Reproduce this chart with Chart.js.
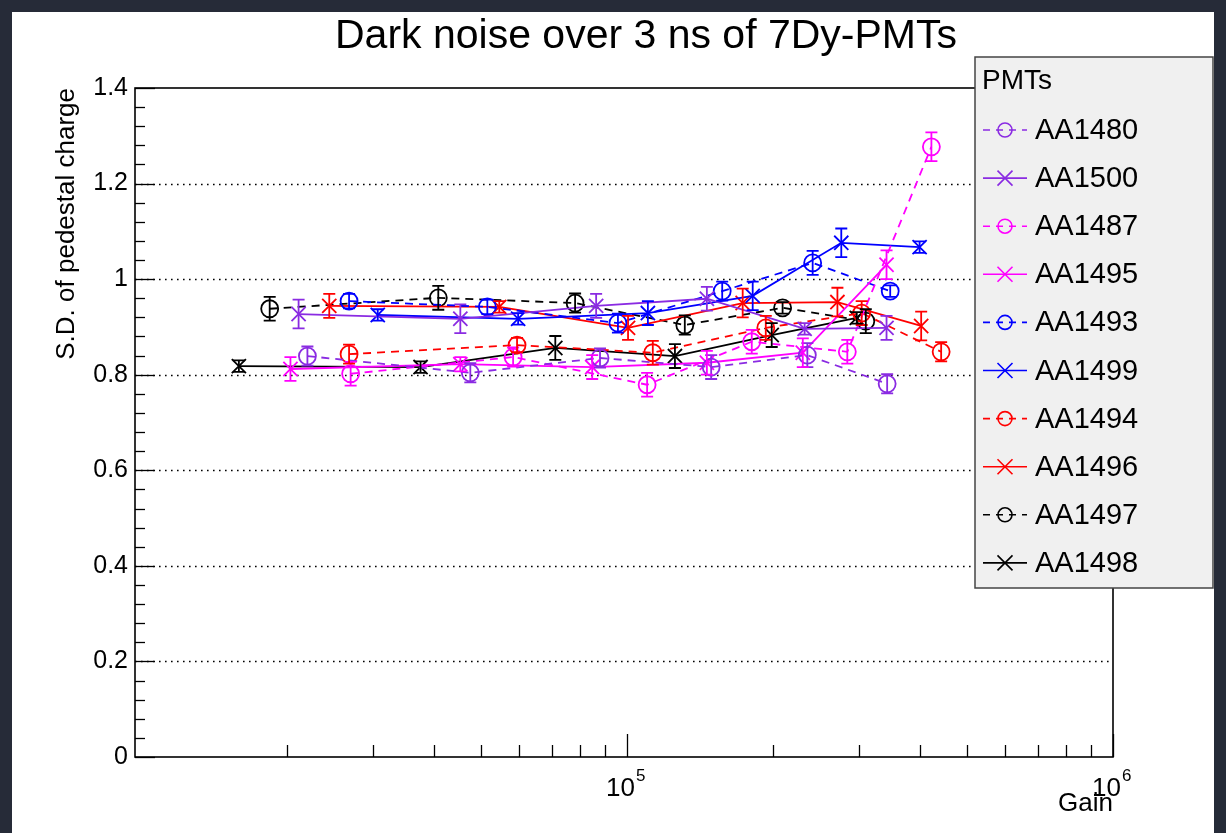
<!DOCTYPE html>
<html lang="en">
<head>
  <meta charset="UTF-8">
  <title>Dark noise over 3 ns of 7Dy-PMTs</title>
  <script src="https://cdn.jsdelivr.net/npm/chart.js"></script>
  <style>
    html, body { margin: 0; padding: 0; background: #262b38; }
    #wrap { width: 1226px; height: 833px; }
  </style>
</head>
<body>
  <div id="wrap"><canvas id="darkNoise" width="1226" height="833"></canvas></div>

  <script>
    // values (gain, S.D. of pedestal charge, error)
    const gain1480 = [22000, 47600, 88000, 149000, 235000, 343000];
    const sd1480   = [0.839, 0.804, 0.835, 0.816, 0.841, 0.781];
    const err1480  = [0.02, 0.02, 0.02, 0.025, 0.025, 0.02];

    const gain1500 = [21100, 45400, 86400, 146000, 232000, 342000];
    const sd1500   = [0.927, 0.917, 0.944, 0.959, 0.896, 0.898];
    const err1500  = [0.03, 0.03, 0.025, 0.025, 0.012, 0.025];

    const gain1487 = [27000, 58300, 110000, 180600, 284000, 423000];
    const sd1487   = [0.802, 0.837, 0.779, 0.869, 0.848, 1.277];
    const err1487  = [0.025, 0.02, 0.025, 0.025, 0.025, 0.03];

    const gain1495 = [20300, 45400, 84800, 146000, 230000, 342000];
    const sd1495   = [0.812, 0.822, 0.816, 0.825, 0.846, 1.030];
    const err1495  = [0.025, 0.015, 0.025, 0.025, 0.03, 0.03];

    const gain1493 = [26800, 51600, 95800, 157000, 241000, 348000];
    const sd1493   = [0.954, 0.942, 0.908, 0.975, 1.034, 0.975];
    const err1493  = [0.015, 0.015, 0.02, 0.02, 0.025, 0.012];

    const gain1499 = [30700, 59700, 110400, 181400, 276000, 400000];
    const sd1499   = [0.925, 0.917, 0.929, 0.965, 1.076, 1.067];
    const err1499  = [0.012, 0.012, 0.025, 0.03, 0.03, 0.012];

    const gain1494 = [26800, 59400, 113000, 193000, 304000, 443000];
    const sd1494   = [0.843, 0.862, 0.846, 0.898, 0.929, 0.848];
    const err1494  = [0.02, 0.015, 0.025, 0.025, 0.025, 0.02];

    const gain1496 = [24400, 54600, 100500, 173000, 271000, 403000];
    const sd1496   = [0.944, 0.942, 0.898, 0.950, 0.952, 0.902];
    const err1496  = [0.025, 0.012, 0.025, 0.03, 0.03, 0.03];

    const gain1497 = [18400, 40900, 78200, 131500, 209000, 310000];
    const sd1497   = [0.938, 0.961, 0.950, 0.904, 0.940, 0.912];
    const err1497  = [0.025, 0.025, 0.02, 0.02, 0.012, 0.025];

    const gain1498 = [15900, 37600, 71200, 125500, 198500, 297000];
    const sd1498   = [0.818, 0.816, 0.856, 0.839, 0.883, 0.919];
    const err1498  = [0.012, 0.012, 0.025, 0.025, 0.025, 0.012];

    // axis ticks
    const xMin = 9720, xMax = 1e6;
    const xTickValues = [2e4, 3e4, 4e4, 5e4, 6e4, 7e4, 8e4, 9e4,
                         1e5, 2e5, 3e5, 4e5, 5e5, 6e5, 7e5, 8e5, 9e5, 1e6];
    const xLabelValues = [1e5, 1e6];
    const xLabelExp = ['5', '6'];
    const yGridValues = [0.2, 0.4, 0.6, 0.8, 1.0, 1.2];

    const FONT = "'Liberation Sans', Arial, Helvetica, sans-serif";
    const VIOLET = '#8a2be2';

    function makeSet(name, gains, sd, err, color, dashed) {
      return {
        label: name,
        data: gains.map((g, i) => ({ x: g, y: sd[i] })),
        errors: err,
        dashed: dashed,
        borderColor: color,
        backgroundColor: 'transparent',
        borderWidth: 1.8,
        borderDash: dashed ? [8, 6] : [],
        pointStyle: dashed ? 'circle' : 'crossRot',
        pointRadius: dashed ? 8.5 : 10,
        pointBorderWidth: 1.8,
        pointBorderColor: color,
        pointBackgroundColor: 'transparent',
        tension: 0
      };
    }

    const datasets = [
      makeSet('AA1480', gain1480, sd1480, err1480, VIOLET, true),
      makeSet('AA1500', gain1500, sd1500, err1500, VIOLET, false),
      makeSet('AA1487', gain1487, sd1487, err1487, '#ff00ff', true),
      makeSet('AA1495', gain1495, sd1495, err1495, '#ff00ff', false),
      makeSet('AA1493', gain1493, sd1493, err1493, '#0000ff', true),
      makeSet('AA1499', gain1499, sd1499, err1499, '#0000ff', false),
      makeSet('AA1494', gain1494, sd1494, err1494, '#ff0000', true),
      makeSet('AA1496', gain1496, sd1496, err1496, '#ff0000', false),
      makeSet('AA1497', gain1497, sd1497, err1497, '#000000', true),
      makeSet('AA1498', gain1498, sd1498, err1498, '#000000', false)
    ];

    function drawMarker(ctx, x, y, ds, r) {
      ctx.beginPath();
      if (ds.dashed) {
        ctx.arc(x, y, r, 0, Math.PI * 2);
      } else {
        ctx.moveTo(x - r, y - r); ctx.lineTo(x + r, y + r);
        ctx.moveTo(x - r, y + r); ctx.lineTo(x + r, y - r);
      }
      ctx.stroke();
    }

    // ROOT-like frame, ticks, dotted grid, error bars, legend
    const rootStyle = {
      id: 'rootStyle',
      beforeDraw(chart) {
        const ctx = chart.ctx;
        ctx.save();
        ctx.fillStyle = '#262b38';
        ctx.fillRect(0, 0, chart.width, chart.height);
        ctx.fillStyle = '#ffffff';
        ctx.fillRect(12, 12, 1202, 821);
        ctx.restore();
      },
      beforeDatasetsDraw(chart) {
        const { ctx, chartArea: a, scales: { x, y } } = chart;
        ctx.save();
        ctx.strokeStyle = '#000';
        // dotted grid
        ctx.lineWidth = 1.6;
        ctx.setLineDash([1.6, 4.4]);
        yGridValues.forEach(v => {
          const py = Math.round(y.getPixelForValue(v)) + 0.5;
          ctx.beginPath(); ctx.moveTo(a.left, py); ctx.lineTo(a.right, py); ctx.stroke();
        });
        ctx.setLineDash([]);
        // frame
        ctx.lineWidth = 1.6;
        ctx.strokeRect(a.left, a.top, a.right - a.left, a.bottom - a.top);
        // y ticks
        ctx.lineWidth = 1.3;
        for (let i = 0; i <= 35; i++) {
          const v = i * 0.04;
          const py = Math.round(y.getPixelForValue(v)) + 0.5;
          const len = (i % 5 === 0) ? 20 : 10;
          ctx.beginPath(); ctx.moveTo(a.left, py); ctx.lineTo(a.left + len, py); ctx.stroke();
        }
        // x ticks
        x.ticks.forEach(t => {
          const px = Math.round(x.getPixelForValue(t.value)) + 0.5;
          const len = xLabelValues.includes(t.value) ? 23 : 12;
          ctx.beginPath(); ctx.moveTo(px, a.bottom); ctx.lineTo(px, a.bottom - len); ctx.stroke();
        });
        ctx.restore();
      },
      afterDatasetsDraw(chart) {
        const { ctx, scales: { x, y } } = chart;
        ctx.save();
        ctx.setLineDash([]);
        ctx.lineWidth = 1.8;
        // error bars
        chart.data.datasets.forEach((ds, di) => {
          const meta = chart.getDatasetMeta(di);
          ctx.strokeStyle = ds.borderColor;
          meta.data.forEach((pt, i) => {
            const v = ds.data[i].y, e = ds.errors[i];
            const y1 = y.getPixelForValue(v + e), y2 = y.getPixelForValue(v - e);
            ctx.beginPath();
            ctx.moveTo(pt.x, y1); ctx.lineTo(pt.x, y2);
            ctx.moveTo(pt.x - 6, y1); ctx.lineTo(pt.x + 6, y1);
            ctx.moveTo(pt.x - 6, y2); ctx.lineTo(pt.x + 6, y2);
            ctx.stroke();
          });
        });

        // x tick labels 10^n
        ctx.fillStyle = '#000';
        ctx.textBaseline = 'alphabetic';
        xLabelValues.forEach((v, i) => {
          const px = x.getPixelForValue(v);
          ctx.font = '26px ' + FONT;
          ctx.textAlign = 'right';
          ctx.fillText('10', px + 8, 796);
          ctx.font = '17px ' + FONT;
          ctx.textAlign = 'left';
          ctx.fillText(xLabelExp[i], px + 9, 781);
        });

        // title
        ctx.font = '41px ' + FONT;
        ctx.textAlign = 'center';
        ctx.textBaseline = 'middle';
        ctx.fillText('Dark noise over 3 ns of 7Dy-PMTs', 646, 37);

        // legend box
        ctx.fillStyle = '#f0f0f0';
        ctx.fillRect(975, 57, 238, 531);
        ctx.strokeStyle = '#444';
        ctx.lineWidth = 1.5;
        ctx.strokeRect(975, 57, 238, 531);
        ctx.fillStyle = '#000';
        ctx.font = '28px ' + FONT;
        ctx.textAlign = 'left';
        ctx.fillText('PMTs', 982, 81);
        ctx.font = '29px ' + FONT;
        chart.data.datasets.forEach((ds, i) => {
          const ry = 130 + i * 48.1;
          ctx.strokeStyle = ds.borderColor;
          ctx.lineWidth = 1.6;
          ctx.setLineDash(ds.dashed ? [7, 6] : []);
          ctx.beginPath(); ctx.moveTo(983, ry); ctx.lineTo(1027, ry); ctx.stroke();
          ctx.setLineDash([]);
          drawMarker(ctx, 1005, ry, ds, ds.dashed ? 7 : 7.5);
          ctx.fillStyle = '#000';
          ctx.fillText(ds.label, 1035, ry + 1);
        });
        ctx.restore();
      }
    };

    new Chart(document.getElementById('darkNoise'), {
      type: 'line',
      data: { datasets: datasets },
      options: {
        responsive: false,
        animation: false,
        layout: { padding: { left: 12, top: 88, right: 113, bottom: 0 } },
        plugins: {
          legend: { display: false },
          tooltip: { enabled: false },
          title: { display: false }
        },
        scales: {
          x: {
            type: 'logarithmic',
            min: xMin,
            max: xMax,
            afterBuildTicks: s => { s.ticks = xTickValues.map(v => ({ value: v })); },
            ticks: { display: false },
            grid: { display: false, drawTicks: false },
            border: { display: false },
            title: {
              display: true, text: 'Gain', align: 'end', color: '#000',
              font: { family: FONT, size: 26 }, padding: { top: 0, bottom: 14 }
            },
            afterFit: s => { s.height = 76; }
          },
          y: {
            min: 0,
            max: 1.4,
            ticks: {
              stepSize: 0.2, color: '#000', padding: 7, font: { family: FONT, size: 25 },
              callback: v => String(Math.round(v * 10) / 10)
            },
            grid: { display: false, drawTicks: false },
            border: { display: false },
            title: {
              display: true, text: 'S.D. of pedestal charge', align: 'end', color: '#000',
              font: { family: FONT, size: 26 }, padding: { top: 39, bottom: 0 }
            },
            afterFit: s => { s.width = 123; }
          }
        }
      },
      plugins: [rootStyle]
    });
  </script>
</body>
</html>
